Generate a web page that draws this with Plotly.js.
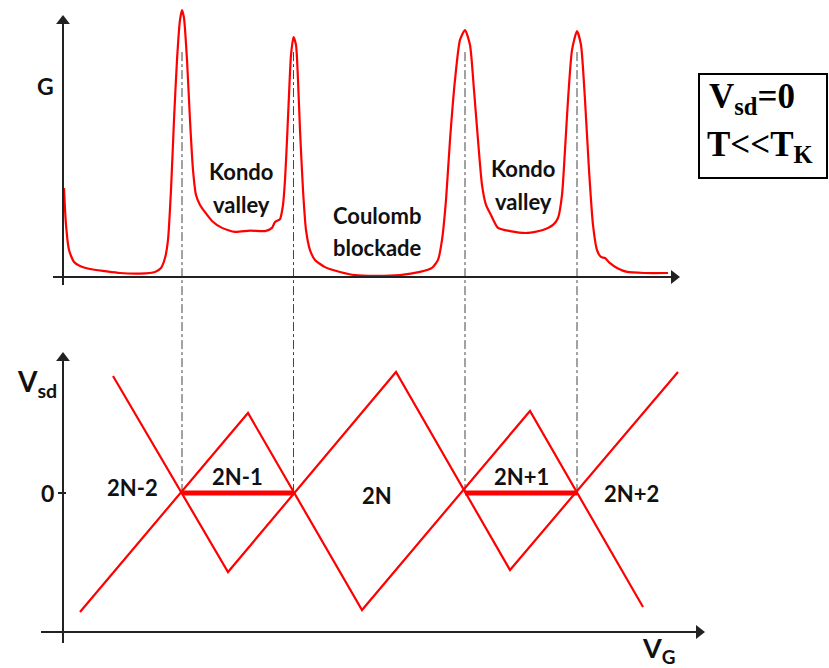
<!DOCTYPE html>
<html>
<head>
<meta charset="utf-8">
<script src="https://cdn.plot.ly/plotly-3.0.1.min.js"></script>
<style>html,body{margin:0;padding:0;background:#fff;}#chart{width:829px;height:668px;}</style>
</head>
<body>
<div id="chart"></div>
<script>
// Top panel: conductance G vs gate voltage VG
var gVG = [0.1,0.3,0.6,1.1,1.7,2.7,4.2,5.7,7.7,9.2,9.8,10.2,10.5,10.8,11.1,11.4,11.7,11.9,12.1,12.4,12.7,13.0,13.3,13.7,14.2,14.9,15.9,17.2,18.7,20.2,20.9,21.2,21.7,22.0,22.2,22.4,22.6,22.8,23.05,23.3,23.5,23.7,24.0,24.3,24.7,25.2,26.2,27.7,29.2,31.2,33.7,35.7,36.9,37.5,37.9,38.3,38.7,39.2,39.7,40.2,40.7,41.1,41.5,41.9,42.3,42.8,43.5,44.7,46.4,48.0,49.0,49.5,49.9,50.2,50.5,50.9,51.4,51.8,52.2,52.6,53.0,53.4,53.8,54.2,54.7,55.4,56.4,58.2,60.5];
var gVal = [0.333,0.195,0.101,0.056,0.041,0.030,0.022,0.015,0.013,0.019,0.034,0.071,0.139,0.326,0.588,0.813,0.963,1.0,0.970,0.813,0.588,0.401,0.307,0.270,0.243,0.210,0.184,0.169,0.174,0.172,0.184,0.206,0.217,0.270,0.363,0.513,0.682,0.831,0.899,0.869,0.738,0.551,0.326,0.176,0.101,0.064,0.037,0.019,0.007,0.004,0.007,0.019,0.034,0.064,0.139,0.288,0.513,0.738,0.888,0.925,0.869,0.700,0.513,0.345,0.270,0.232,0.184,0.172,0.165,0.176,0.195,0.221,0.307,0.476,0.663,0.850,0.921,0.869,0.663,0.401,0.195,0.101,0.075,0.071,0.052,0.034,0.019,0.015,0.015];

// Peak (degeneracy point) positions in VG
var peakVG = [11.9, 23.05, 40.2, 51.4];

// Bottom panel: Coulomb diamond edges (two zig-zag lines), VG vs Vsd
var zigA_VG  = [1.7, 18.5, 29.9, 46.7, 58.0];
var zigA_Vsd = [-1.19, 0.80, -1.17, 0.82, -1.14];
var zigB_VG  = [5.0, 16.5, 33.3, 44.7, 61.5];
var zigB_Vsd = [1.17, -0.79, 1.21, -0.77, 1.21];

// Thick Kondo segments at Vsd = 0 (between peak pairs)
var kondoStart = [11.9, 40.2];
var kondoEnd   = [23.05, 51.4];

// Charge state labels
var stateLabels = ['2N-2','2N-1','2N','2N+1','2N+2'];
var stateVG  = [6.9, 17.4, 31.4, 45.8, 56.8];
var stateVsd = [0.05, 0.16, -0.03, 0.16, -0.01];

// Region labels in top panel (one entry per text line)
var regionLines = ['Kondo','valley','Coulomb','blockade','Kondo','valley'];
var regionVG = [17.8, 17.8, 31.4, 31.4, 46.0, 46.0];
var regionG  = [0.397, 0.270, 0.232, 0.109, 0.408, 0.281];

var RED = 'rgb(255,0,0)';
var AX = '#222';
var sansFont = 'Lato, "Open Sans", sans-serif';

var traces = [];
traces.push({x: gVG, y: gVal, xaxis:'x', yaxis:'y', mode:'lines',
  line:{color:RED, width:2.2, shape:'spline', smoothing:0.6}, hoverinfo:'skip'});
traces.push({x: zigA_VG, y: zigA_Vsd, xaxis:'x', yaxis:'y2', mode:'lines',
  line:{color:RED, width:2.2}, hoverinfo:'skip'});
traces.push({x: zigB_VG, y: zigB_Vsd, xaxis:'x', yaxis:'y2', mode:'lines',
  line:{color:RED, width:2.2}, hoverinfo:'skip'});
for (var i = 0; i < kondoStart.length; i++) {
  traces.push({x:[kondoStart[i], kondoEnd[i]], y:[0,0], xaxis:'x', yaxis:'y2', mode:'lines',
    line:{color:RED, width:5}, hoverinfo:'skip'});
}

var shapes = [];
// dash-dot guide lines from G peaks down to Vsd = 0 degeneracy points
peakVG.forEach(function(v){
  shapes.push({type:'line', xref:'x', yref:'paper', x0:v, x1:v, y0:0.922, y1:0.262,
    line:{color:'#444', width:1, dash:'dashdot'}, layer:'below'});
});
// "0" tick on Vsd axis
shapes.push({type:'line', xref:'paper', yref:'y2', x0:58/829, x1:66/829, y0:0, y1:0,
  line:{color:AX, width:2}});
// condition box frame
shapes.push({type:'rect', xref:'paper', yref:'paper', x0:699/829, x1:827/829,
  y0:1-178/668, y1:1-74/668, line:{color:'#000', width:2}, fillcolor:'rgba(0,0,0,0)'});

// axes drawn as lines with triangular arrow heads
function axisLine(x0, y0, x1, y1, yref) {
  shapes.push({type:'line', xref:'x', yref:yref, x0:x0, y0:y0, x1:x1, y1:y1,
    line:{color:AX, width:2}});
}
axisLine(0, -0.030, 0, 0.955, 'y');
axisLine(-1.0, 0, 61.0, 0, 'y');
axisLine(0, -1.5, 0, 1.34, 'y2');
axisLine(-2.2, -1.39, 63.5, -1.39, 'y2');
traces.push({x:[0], y:[0.959], xaxis:'x', yaxis:'y', mode:'markers',
  marker:{symbol:'triangle-up', size:12, color:AX}, hoverinfo:'skip'});
traces.push({x:[61.1], y:[0], xaxis:'x', yaxis:'y', mode:'markers',
  marker:{symbol:'triangle-right', size:12, color:AX}, hoverinfo:'skip'});
traces.push({x:[0], y:[1.35], xaxis:'x', yaxis:'y2', mode:'markers',
  marker:{symbol:'triangle-up', size:12, color:AX}, hoverinfo:'skip'});
traces.push({x:[63.6], y:[-1.39], xaxis:'x', yaxis:'y2', mode:'markers',
  marker:{symbol:'triangle-right', size:12, color:AX}, hoverinfo:'skip'});

var annotations = [];
function label(text, x, y, yref, size, opts) {
  var a = {text:text, x:x, y:y, xref:'x', yref:yref, showarrow:false,
    font:{family:sansFont, size:size, color:'#111', weight:'bold'}};
  if (opts) for (var k in opts) a[k] = opts[k];
  annotations.push(a);
}
label('G', -1.8, 0.715, 'y', 23);
label('V<sub>G</sub>', 58.9, -0.105, 'y', 27);
label('V<sub>sd</sub>', -2.6, 1.10, 'y2', 28);
label('0', -1.6, 0, 'y2', 23);
label('V<sub>G</sub>', 59.5, -1.56, 'y2', 27);
for (var j = 0; j < regionLines.length; j++) {
  label(regionLines[j], regionVG[j], regionG[j], 'y', 22);
}
for (var s = 0; s < stateLabels.length; s++) {
  label(stateLabels[s], stateVG[s], stateVsd[s], 'y2', 22);
}
// condition box text
var serif = '"Liberation Serif", "Times New Roman", serif';
annotations.push({text:'V<sub>sd</sub>=0', xref:'paper', yref:'paper',
  x:707/829, y:1-98/668, xanchor:'left', yanchor:'middle', showarrow:false,
  font:{family:serif, size:35, color:'#000', weight:'bold'}});
annotations.push({text:'T&lt;&lt;T<sub>K</sub>', xref:'paper', yref:'paper',
  x:705/829, y:1-146/668, xanchor:'left', yanchor:'middle', showarrow:false,
  font:{family:serif, size:35, color:'#000', weight:'bold'}});

var layout = {
  width:829, height:668, margin:{l:0,r:0,t:0,b:0},
  paper_bgcolor:'#fff', plot_bgcolor:'rgba(0,0,0,0)', showlegend:false,
  xaxis:{range:[-6.3,76.6], domain:[0,1], visible:false, fixedrange:true},
  yaxis:{range:[-0.0861,1.0375], domain:[0.5509,1], visible:false, fixedrange:true},
  yaxis2:{range:[-1.75,1.63], domain:[0,0.506], visible:false, fixedrange:true, anchor:'x'},
  shapes:shapes, annotations:annotations
};
Plotly.newPlot('chart', traces, layout, {displayModeBar:false, staticPlot:true});
</script>
</body>
</html>
